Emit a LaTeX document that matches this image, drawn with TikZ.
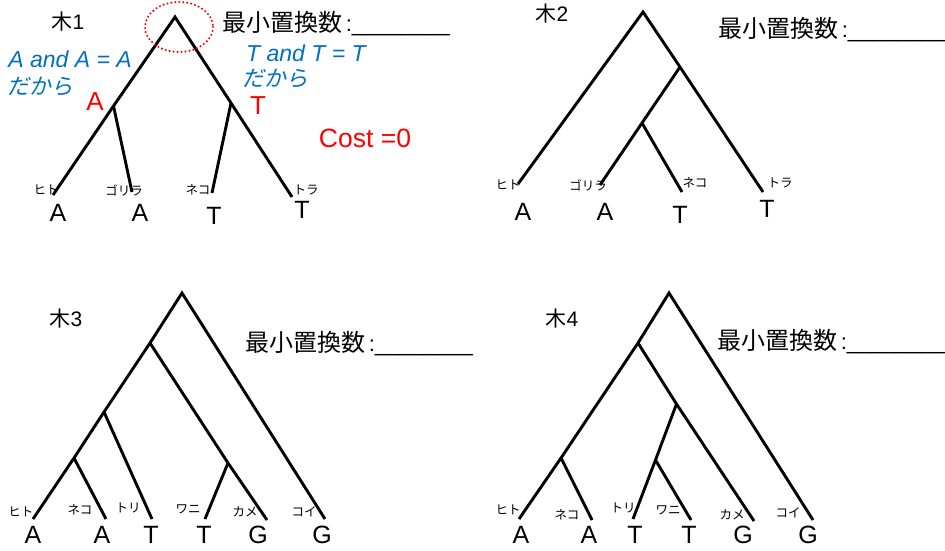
\documentclass[tikz,border=0pt]{standalone}
\usepackage{fontspec}
\setmainfont{Liberation Sans}
\newfontfamily\jp{Noto Sans CJK JP}
\newfontfamily\jpi{Noto Sans CJK JP}[FakeSlant=0.2]
\definecolor{noteblue}{HTML}{0070C0}
\definecolor{markred}{HTML}{FF0000}
\newcommand{\minsub}{{\fontsize{24}{24}\selectfont\jp 最小置換数}\,:\_\_\_\_\_\_\_\_}
\tikzset{
  branch/.style={line width=2.9pt, line join=miter, line cap=butt},
  leafname/.style={font=\jp\fontsize{12.5}{12.5}\selectfont, inner sep=0pt},
  base/.style={font=\fontsize{25}{25}\selectfont, inner sep=0pt},
  treetitle/.style={font=\fontsize{21}{21}\selectfont, inner sep=0pt},
  blank/.style={font=\fontsize{22}{22}\selectfont, inner sep=0pt, anchor=west},
  note/.style={font=\fontsize{23}{23}\selectfont\itshape, text=noteblue, inner sep=0pt},
  redmark/.style={font=\fontsize{26}{26}\selectfont, text=markred, inner sep=0pt},
}
\begin{document}
\begin{tikzpicture}[x=1pt,y=-1pt]
\useasboundingbox (0,0) rectangle (945,551);

% ---------------- Tree 1 ----------------
\coordinate (r1) at (175,17);
\coordinate (a1) at (113.5,106);
\coordinate (b1) at (231,103);
\coordinate (l11) at (53,195);
\coordinate (l12) at (132,192);
\coordinate (l13) at (212,193);
\coordinate (l14) at (292,197);
\draw[branch] (l11) -- (a1) -- (r1) -- (b1) -- (l14);
\draw[branch] (a1) -- (l12);
\draw[branch] (b1) -- (l13);
\node[treetitle] (t1) at (68,22) {{\jp 木}1};
\node[blank] (m1) at (222,24) {\minsub};
\node[leafname] (n11) at (46,190) {ヒト};
\node[leafname] (n12) at (124,190) {ゴリラ};
\node[leafname] (n13) at (198,190) {ネコ};
\node[leafname] (n14) at (306,190) {トラ};
\node[base] (s11) at (58,213) {A};
\node[base] (s12) at (140,213) {A};
\node[base] (s13) at (214,216) {T};
\node[base] (s14) at (302,210) {T};
\draw[markred, line width=2.3pt, dash pattern=on 0pt off 4pt, line cap=round] (179,27) ellipse [x radius=34, y radius=25];
\node[note] (e1) at (70,59) {A and A = A};
\node[note, font=\jpi\fontsize{22}{22}\selectfont] (e2) at (40,87) {だから};
\node[note] (e3) at (306,53) {T and T = T};
\node[note, font=\jpi\fontsize{22}{22}\selectfont] (e4) at (275,79) {だから};
\node[redmark] (ra) at (95,102) {A};
\node[redmark] (rt) at (258,106) {T};
\node[redmark, font=\fontsize{26.5}{26.5}\selectfont] (cost) at (365,138) {Cost =0};

% ---------------- Tree 2 ----------------
\coordinate (r2) at (643,12);
\coordinate (a2) at (680,67);
\coordinate (b2) at (642,123);
\coordinate (l21) at (518,184);
\coordinate (l22) at (600,185);
\coordinate (l23) at (682,192);
\coordinate (l24) at (763,192);
\draw[branch] (l21) -- (r2) -- (a2) -- (l24);
\draw[branch] (a2) -- (b2) -- (l22);
\draw[branch] (b2) -- (l23);
\node[treetitle] (t2) at (552,14) {{\jp 木}2};
\node[blank] (m2) at (718,30) {\minsub};
\node[leafname] (n21) at (508,185) {ヒト};
\node[leafname] (n22) at (588,185) {ゴリラ};
\node[leafname] (n23) at (695,183) {ネコ};
\node[leafname] (n24) at (780,183) {トラ};
\node[base] (s21) at (523,212) {A};
\node[base] (s22) at (605,212) {A};
\node[base] (s23) at (680,215) {T};
\node[base] (s24) at (767,209) {T};

% ---------------- Tree 3 ----------------
\coordinate (r3) at (182,293);
\coordinate (a3) at (150,343);
\coordinate (b3) at (104,412);
\coordinate (c3) at (74,458);
\coordinate (d3) at (228,463);
\coordinate (l31) at (33,519);
\coordinate (l32) at (106,519);
\coordinate (l33) at (152,519);
\coordinate (l34) at (205,519);
\coordinate (l35) at (267,520);
\coordinate (l36) at (325,519);
\draw[branch] (l31) -- (c3) -- (b3) -- (a3) -- (r3) -- (l36);
\draw[branch] (c3) -- (l32);
\draw[branch] (b3) -- (l33);
\draw[branch] (a3) -- (d3) -- (l35);
\draw[branch] (d3) -- (l34);
\node[treetitle] (t3) at (66,319) {{\jp 木}3};
\node[blank] (m3) at (245,344) {\minsub};
\node[leafname] (n31) at (21,512) {ヒト};
\node[leafname] (n32) at (80,510) {ネコ};
\node[leafname] (n33) at (128,508) {トリ};
\node[leafname] (n34) at (188,509) {ワニ};
\node[leafname] (n35) at (245,512) {カメ};
\node[leafname] (n36) at (304,512) {コイ};
\node[base] (s31) at (33,535) {A};
\node[base] (s32) at (102,535) {A};
\node[base] (s33) at (151,535) {T};
\node[base] (s34) at (204,535) {T};
\node[base] (s35) at (258,535) {G};
\node[base] (s36) at (322,535) {G};

% ---------------- Tree 4 ----------------
\coordinate (r4) at (669,293);
\coordinate (a4) at (638,343);
\coordinate (b4) at (676.5,404);
\coordinate (c4) at (655.5,460);
\coordinate (d4) at (561,458);
\coordinate (l41) at (519,519);
\coordinate (l42) at (592,520);
\coordinate (l43) at (633,519);
\coordinate (l44) at (691,520);
\coordinate (l45) at (754,521);
\coordinate (l46) at (813,520);
\draw[branch] (l41) -- (d4) -- (a4) -- (r4) -- (l46);
\draw[branch] (d4) -- (l42);
\draw[branch] (a4) -- (b4) -- (l45);
\draw[branch] (b4) -- (c4) -- (l43);
\draw[branch] (c4) -- (l44);
\node[treetitle] (t4) at (562,319) {{\jp 木}4};
\node[blank] (m4) at (717,342) {\minsub};
\node[leafname] (n41) at (508,510) {ヒト};
\node[leafname] (n42) at (567,515) {ネコ};
\node[leafname] (n43) at (623,508) {トリ};
\node[leafname] (n44) at (668,510) {ワニ};
\node[leafname] (n45) at (732,515) {カメ};
\node[leafname] (n46) at (788,513) {コイ};
\node[base] (s41) at (521,535) {A};
\node[base] (s42) at (589,535) {A};
\node[base] (s43) at (635,535) {T};
\node[base] (s44) at (689,535) {T};
\node[base] (s45) at (743,535) {G};
\node[base] (s46) at (808,535) {G};
\end{tikzpicture}
\end{document}
